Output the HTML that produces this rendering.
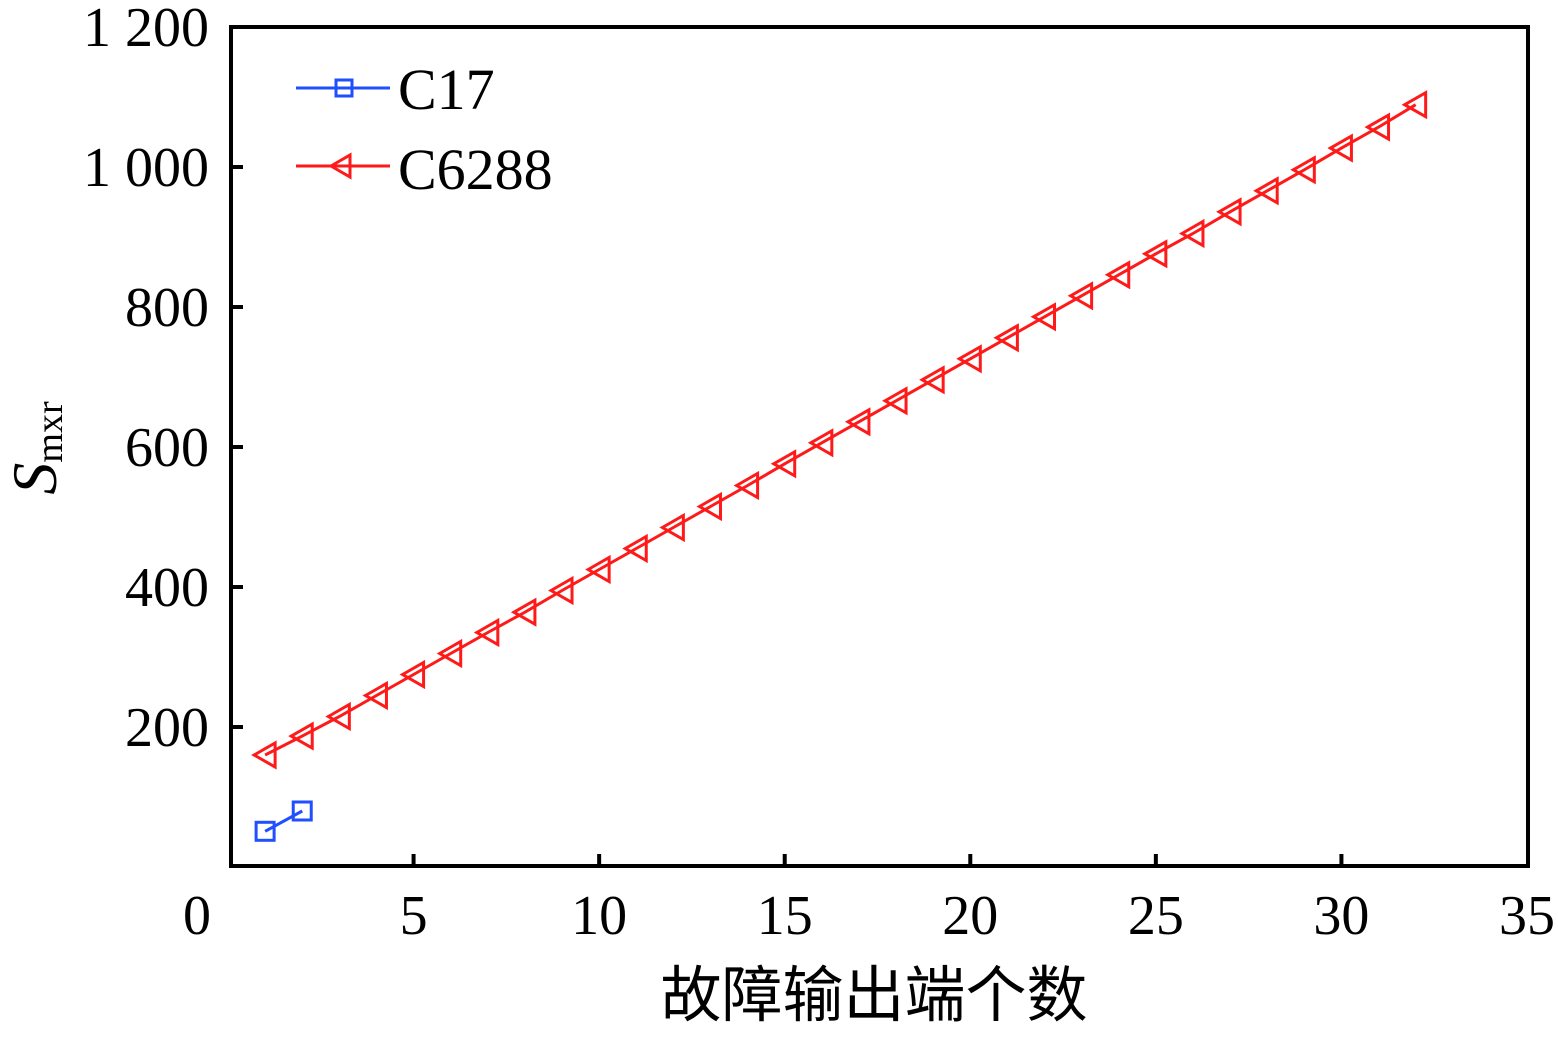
<!DOCTYPE html>
<html><head><meta charset="utf-8"><style>
html,body{margin:0;padding:0;background:#fff;}
svg text{font-family:"Liberation Serif","Noto Serif CJK SC",serif;fill:#000;}
</style></head><body>
<svg id="chart" width="1558" height="1039" xmlns="http://www.w3.org/2000/svg">
<rect width="1558" height="1039" fill="#fff"/>
<rect x="231" y="27" width="1297" height="839" fill="none" stroke="#000" stroke-width="4"/>
<g id="ticks"></g>
<g id="series"></g>
<text x="874" y="1016" font-size="61" text-anchor="middle" style='font-family:"Noto Sans CJK SC","Noto Serif CJK SC",sans-serif'>故障输出端个数</text>
<text transform="translate(56,448) rotate(-90)" text-anchor="middle"><tspan font-size="64" font-style="italic">S</tspan><tspan font-size="38" dy="6">mxr</tspan></text>
<g>
<line x1="296" y1="88" x2="390" y2="88" stroke="#1f4fff" stroke-width="3"/>
<rect x="336" y="80" width="16" height="16" fill="none" stroke="#1f4fff" stroke-width="3"/>
<text x="398" y="109" font-size="58">C17</text>
<line x1="296" y1="166" x2="390" y2="166" stroke="#ff1a1a" stroke-width="3"/>
<polygon points="331,166 350,155 350,177" fill="none" stroke="#ff1a1a" stroke-width="3"/>
<text x="398" y="189" font-size="58">C6288</text>
</g>
</svg>
<script>
const xTicks=[0,5,10,15,20,25,30,35];
const yTicks=[200,400,600,800,1000,1200];
const yTickLabels=["200","400","600","800","1 000","1 200"];
const c17X=[1,2];
const c17Y=[51,80];
const c6288X=[1,2,3,4,5,6,7,8,9,10,11,12,13,14,15,16,17,18,19,20,21,22,23,24,25,26,27,28,29,30,31,32];
const c6288Y=[160,187,215,245,275,305,335,364,395,425,455,485,515,545,576,606,636,666,696,726,756,786,816,846,876,905,936,966,996,1027,1057,1089];
const NS='http://www.w3.org/2000/svg';
const X=v=>228+v*(1527-228)/35;
const Y=v=>867-v*(867-27)/1200;
function mk(t,a,p){const e=document.createElementNS(NS,t);for(const k in a)e.setAttribute(k,a[k]);p.appendChild(e);return e;}
const tk=document.getElementById('ticks');
xTicks.forEach(v=>{
 if(v>0&&v<35){const l=mk('line',{x1:X(v),x2:X(v),y1:866,y2:854,stroke:'#000','stroke-width':4},tk);
 
 }
 const t=mk('text',{x:v===0?197:X(v),y:934,'font-size':56,'text-anchor':'middle'},tk);
 
 
 t.textContent=v;
});
yTicks.forEach((v,i)=>{
 if(v<1200){const l=mk('line',{x1:231,x2:243,y1:Y(v),y2:Y(v),stroke:'#000','stroke-width':4},tk);
 
 }
 const t=mk('text',{x:209,y:Y(v)+19,'font-size':56,'text-anchor':'end'},tk);
 
 
 t.textContent=yTickLabels[i];
});
const sg=document.getElementById('series');
function series(xs,ys,color,name,tri){
 const g=mk('g',{},sg);
 
 
 const pl=mk('polyline',{points:xs.map((x,i)=>X(x)+','+Y(ys[i])).join(' '),fill:'none',stroke:color,'stroke-width':3},g);
 
 
 xs.forEach((x,i)=>{
  const cx=X(x),cy=Y(ys[i]);
  let m;
  if(tri) m=mk('polygon',{points:(cx-11)+','+cy+' '+(cx+10)+','+(cy-12)+' '+(cx+10)+','+(cy+12),fill:'none',stroke:color,'stroke-width':3},g);
  else m=mk('rect',{x:cx-9,y:cy-9,width:18,height:18,fill:'none',stroke:color,'stroke-width':3},g);
  
  
 });
}
series(c6288X,c6288Y,'#ff1a1a','series-c6288',true);
series(c17X,c17Y,'#1f4fff','series-c17',false);
</script>
</body></html>
